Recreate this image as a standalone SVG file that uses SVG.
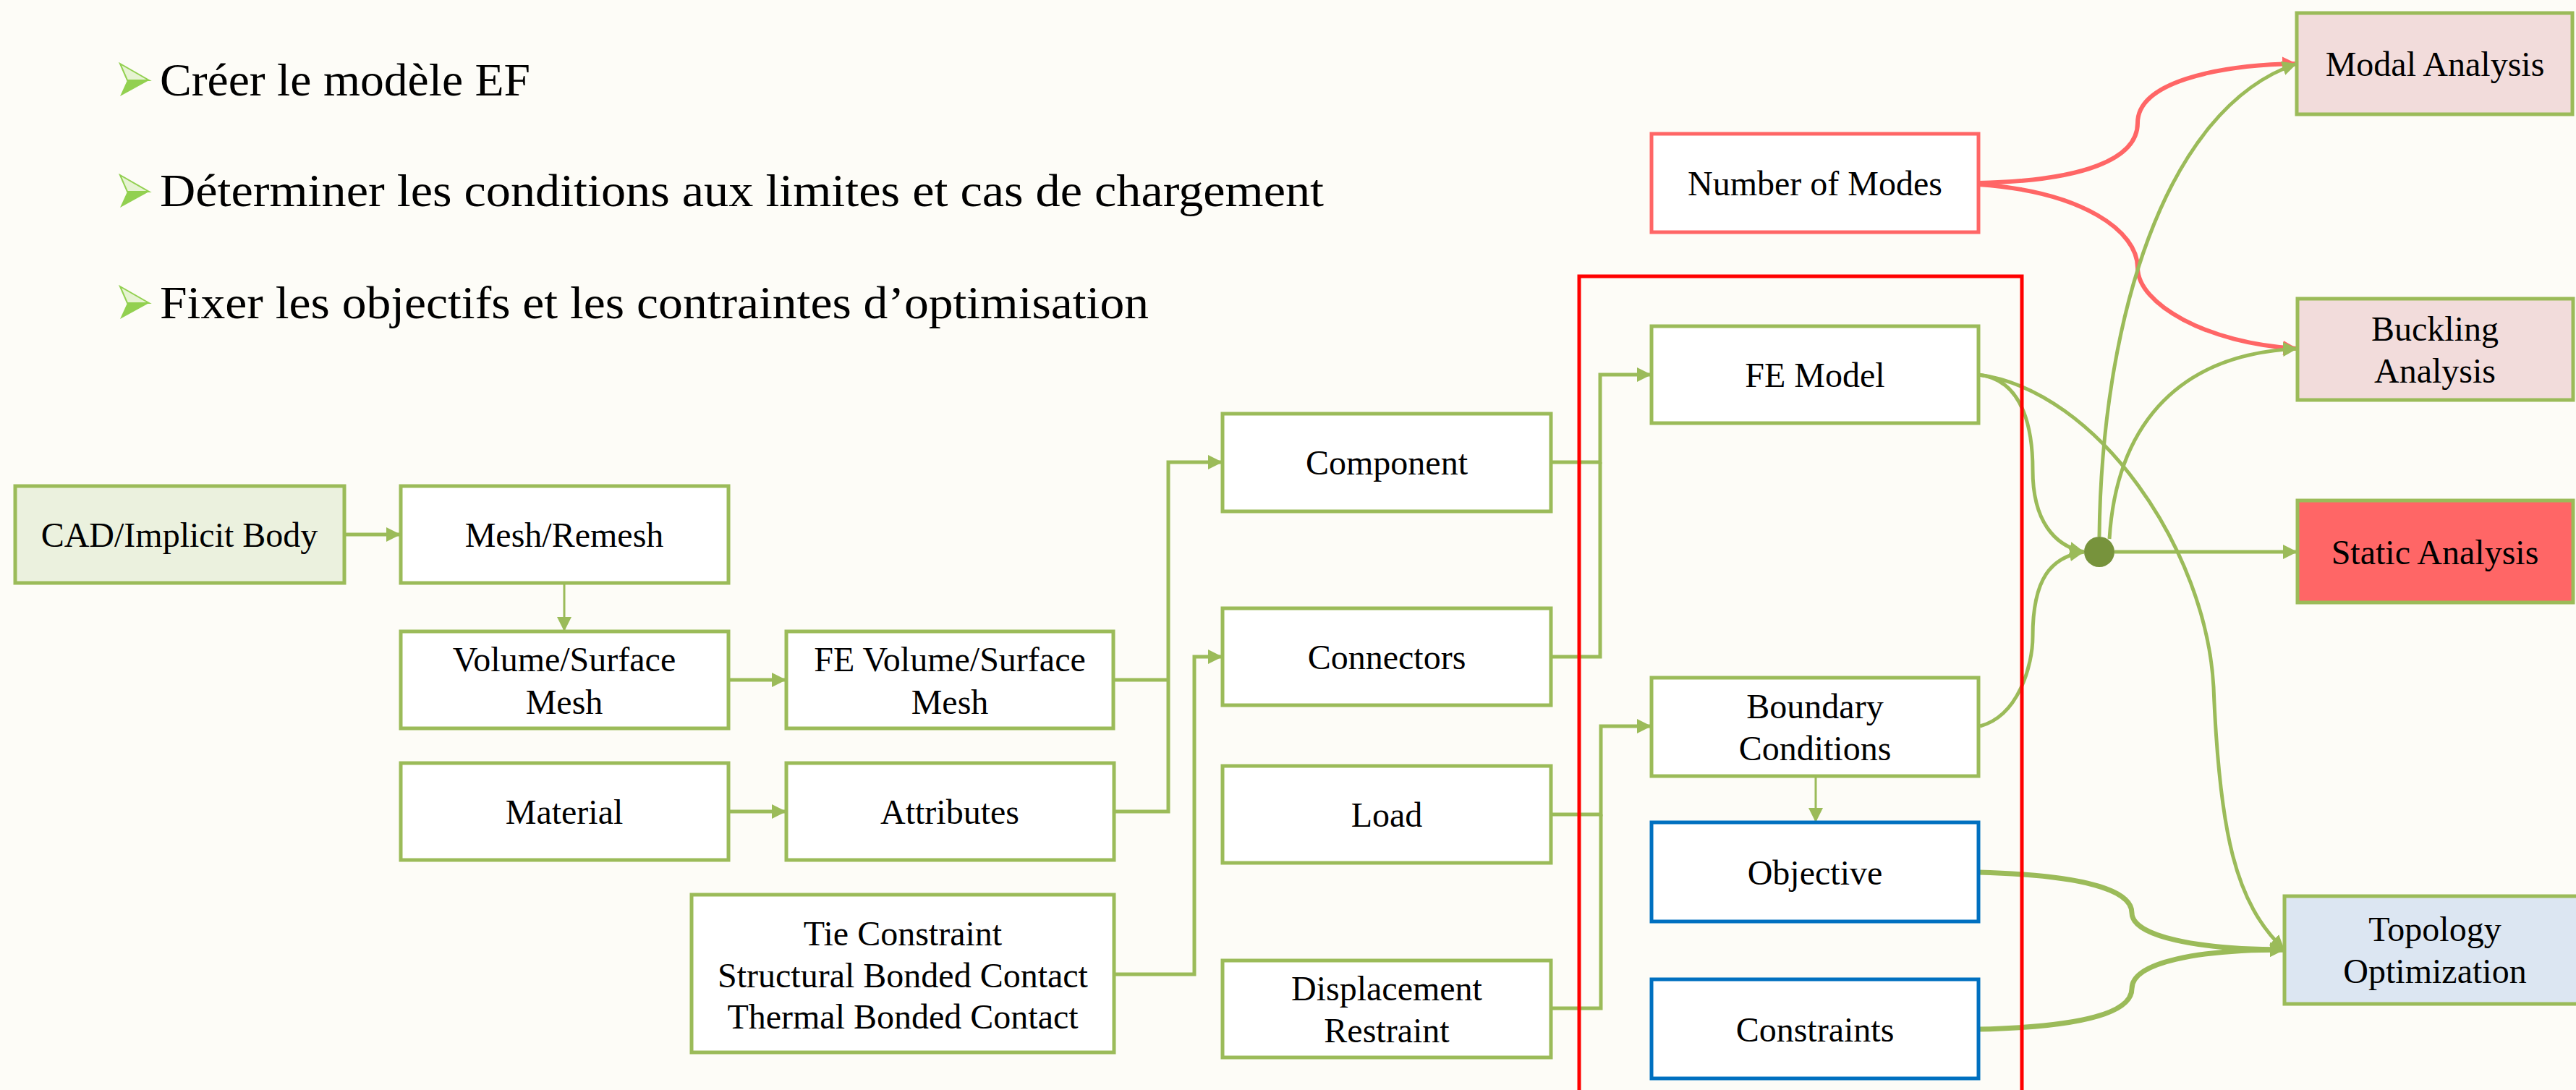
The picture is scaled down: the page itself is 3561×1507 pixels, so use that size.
<svg xmlns="http://www.w3.org/2000/svg" width="3561" height="1507" viewBox="0 0 3561 1507">
<style>
.box{fill:#FFFFFF;stroke:#9BBB59;stroke-width:5}
.blue{fill:#FFFFFF;stroke:#0070C0;stroke-width:5}
.lbl{font-family:"Liberation Serif","Times New Roman",serif;font-size:48px;fill:#000;text-anchor:middle}
.bul{font-family:"Liberation Serif","Times New Roman",serif;font-size:64px;fill:#000}
.c{fill:none;stroke:#9BBB59;stroke-width:5;stroke-linejoin:miter}
.thin{fill:none;stroke:#9BBB59;stroke-width:3}
.red{fill:none;stroke:#FF6666;stroke-width:6}
.thick{fill:none;stroke:#9BBB59;stroke-width:7}
</style>
<defs>
<marker id="ag" markerUnits="userSpaceOnUse" markerWidth="20" markerHeight="20" refX="18" refY="9" orient="auto" viewBox="0 0 18 18"><path d="M0,0 L18,9 L0,18 z" fill="#9BBB59"/></marker>
<marker id="ar" markerUnits="userSpaceOnUse" markerWidth="20" markerHeight="20" refX="18" refY="9" orient="auto" viewBox="0 0 18 18"><path d="M0,0 L18,9 L0,18 z" fill="#FF6666"/></marker>
</defs>
<rect x="0" y="0" width="3561" height="1507" fill="#FDFCF7"/>

<g id="bullets">
<polygon points="166,88 206,111 176,111" fill="#E6F3D2" stroke="#92D050" stroke-width="2"/>
<polygon points="176,111 206,111 166,133" fill="#92D050"/>
<text class="bul" x="221" y="132" textLength="512" lengthAdjust="spacingAndGlyphs">Créer le modèle EF</text>
<polygon points="166,242 206,265 176,265" fill="#E6F3D2" stroke="#92D050" stroke-width="2"/>
<polygon points="176,265 206,265 166,287" fill="#92D050"/>
<text class="bul" x="221" y="285" textLength="1609" lengthAdjust="spacingAndGlyphs">Déterminer les conditions aux limites et cas de chargement</text>
<polygon points="166,396 206,419 176,419" fill="#E6F3D2" stroke="#92D050" stroke-width="2"/>
<polygon points="176,419 206,419 166,441" fill="#92D050"/>
<text class="bul" x="221" y="440" textLength="1367" lengthAdjust="spacingAndGlyphs">Fixer les objectifs et les contraintes d’optimisation</text>
</g>

<g id="connectors">
<path class="c" d="M476,739 H554" marker-end="url(#ag)"/>
<path class="thin" d="M780,806 V873" marker-end="url(#ag)"/>
<path class="c" d="M1007,940 H1087" marker-end="url(#ag)"/>
<path class="c" d="M1007,1122 H1087" marker-end="url(#ag)"/>
<path class="c" d="M1539,940 H1615"/>
<path class="c" d="M1540,1122 H1615 V639 H1690" marker-end="url(#ag)"/>
<path class="c" d="M1540,1347 H1651 V908 H1690" marker-end="url(#ag)"/>
<path class="c" d="M2144,908 H2212 V639"/>
<path class="c" d="M2144,639 H2212 V518 H2283" marker-end="url(#ag)"/>
<path class="c" d="M2144,1394 H2213 V1126"/>
<path class="c" d="M2144,1126 H2213 V1004 H2283" marker-end="url(#ag)"/>
<path class="thin" d="M2510,1073 V1137" marker-end="url(#ag)"/>
<path class="red" d="M2735,253 C2880,250 2955,220 2955,170 C2955,115 3060,90 3175,88" marker-end="url(#ar)"/>
<path class="red" d="M2735,255 C2880,265 2955,320 2955,370 C2955,420 3050,475 3176,482" marker-end="url(#ar)"/>
<path class="c" d="M2902,742 C2905,450 2990,150 3175,88" marker-end="url(#ag)"/>
<path class="c" d="M2916,745 C2925,600 3000,490 3176,482" marker-end="url(#ag)"/>
<path class="c" d="M2735,518 C2800,525 2810,600 2810,650 C2810,720 2840,755 2881,763" marker-end="url(#ag)"/>
<path class="c" d="M2737,1004 C2790,990 2810,920 2810,880 C2810,800 2835,770 2881,763" marker-end="url(#ag)"/>
<path class="c" d="M2735,518 C2900,540 3050,760 3060,950 C3068,1150 3090,1250 3158,1313" marker-end="url(#ag)"/>
<path class="c" d="M2923,763 H3176" marker-end="url(#ag)"/>
<path class="thick" d="M2735,1206 C2880,1210 2947,1230 2947,1262 C2947,1295 3040,1313 3158,1313" marker-end="url(#ag)"/>
<path class="thick" d="M2735,1423 C2880,1420 2947,1400 2947,1367 C2947,1330 3040,1313 3158,1313" marker-end="url(#ag)"/>
</g>

<g id="cad"><rect x="21" y="672" width="455" height="134" class="box" style="fill:#EBF1DE"/><text class="lbl" x="248" y="756">CAD/Implicit Body</text></g>
<g id="mesh"><rect x="554" y="672" width="453" height="134" class="box"/><text class="lbl" x="780" y="756">Mesh/Remesh</text></g>
<g id="volmesh"><rect x="554" y="873" width="453" height="134" class="box"/><text class="lbl" x="780" y="928">Volume/Surface</text><text class="lbl" x="780" y="987">Mesh</text></g>
<g id="material"><rect x="554" y="1055" width="453" height="134" class="box"/><text class="lbl" x="780" y="1139">Material</text></g>
<g id="femesh"><rect x="1087" y="873" width="452" height="134" class="box"/><text class="lbl" x="1313" y="928">FE Volume/Surface</text><text class="lbl" x="1313" y="987">Mesh</text></g>
<g id="attributes"><rect x="1087" y="1055" width="453" height="134" class="box"/><text class="lbl" x="1313" y="1139">Attributes</text></g>
<g id="contacts"><rect x="956" y="1237" width="584" height="218" class="box"/><text class="lbl" x="1248" y="1307">Tie Constraint</text><text class="lbl" x="1248" y="1365">Structural Bonded Contact</text><text class="lbl" x="1248" y="1422">Thermal Bonded Contact</text></g>
<g id="component"><rect x="1690" y="572" width="454" height="135" class="box"/><text class="lbl" x="1917" y="656">Component</text></g>
<g id="connectorsnode"><rect x="1690" y="841" width="454" height="134" class="box"/><text class="lbl" x="1917" y="925">Connectors</text></g>
<g id="load"><rect x="1690" y="1059" width="454" height="134" class="box"/><text class="lbl" x="1917" y="1143">Load</text></g>
<g id="displacement"><rect x="1690" y="1328" width="454" height="134" class="box"/><text class="lbl" x="1917" y="1383">Displacement</text><text class="lbl" x="1917" y="1441">Restraint</text></g>
<g id="modes"><rect x="2283" y="185" width="452" height="136" class="box" style="stroke:#FF6666"/><text class="lbl" x="2509" y="270">Number of Modes</text></g>
<g id="femodel"><rect x="2283" y="451" width="452" height="134" class="box"/><text class="lbl" x="2509" y="535">FE Model</text></g>
<g id="bc"><rect x="2283" y="937" width="452" height="136" class="box"/><text class="lbl" x="2509" y="993">Boundary</text><text class="lbl" x="2509" y="1051">Conditions</text></g>
<g id="objective"><rect x="2283" y="1137" width="452" height="137" class="blue"/><text class="lbl" x="2509" y="1223">Objective</text></g>
<g id="constraints"><rect x="2283" y="1354" width="452" height="137" class="blue"/><text class="lbl" x="2509" y="1440">Constraints</text></g>
<g id="modal"><rect x="3175" y="18" width="381" height="140" class="box" style="fill:#F2DCDB"/><text class="lbl" x="3366" y="105">Modal Analysis</text></g>
<g id="buckling"><rect x="3176" y="413" width="381" height="140" class="box" style="fill:#F2DCDB"/><text class="lbl" x="3366" y="471">Buckling</text><text class="lbl" x="3366" y="529">Analysis</text></g>
<g id="static"><rect x="3176" y="692" width="381" height="141" class="box" style="fill:#FF6666"/><text class="lbl" x="3366" y="780">Static Analysis</text></g>
<g id="topology"><rect x="3158" y="1239" width="420" height="149" class="box" style="fill:#DCE6F2"/><text class="lbl" x="3366" y="1301">Topology</text><text class="lbl" x="3366" y="1359">Optimization</text></g>
<g id="junction"><circle cx="2902" cy="763" r="21" fill="#77933C"/></g>
<g id="group-frame"><rect x="2183" y="382" width="612" height="1200" fill="none" stroke="#FF0000" stroke-width="5"/></g>
</svg>
